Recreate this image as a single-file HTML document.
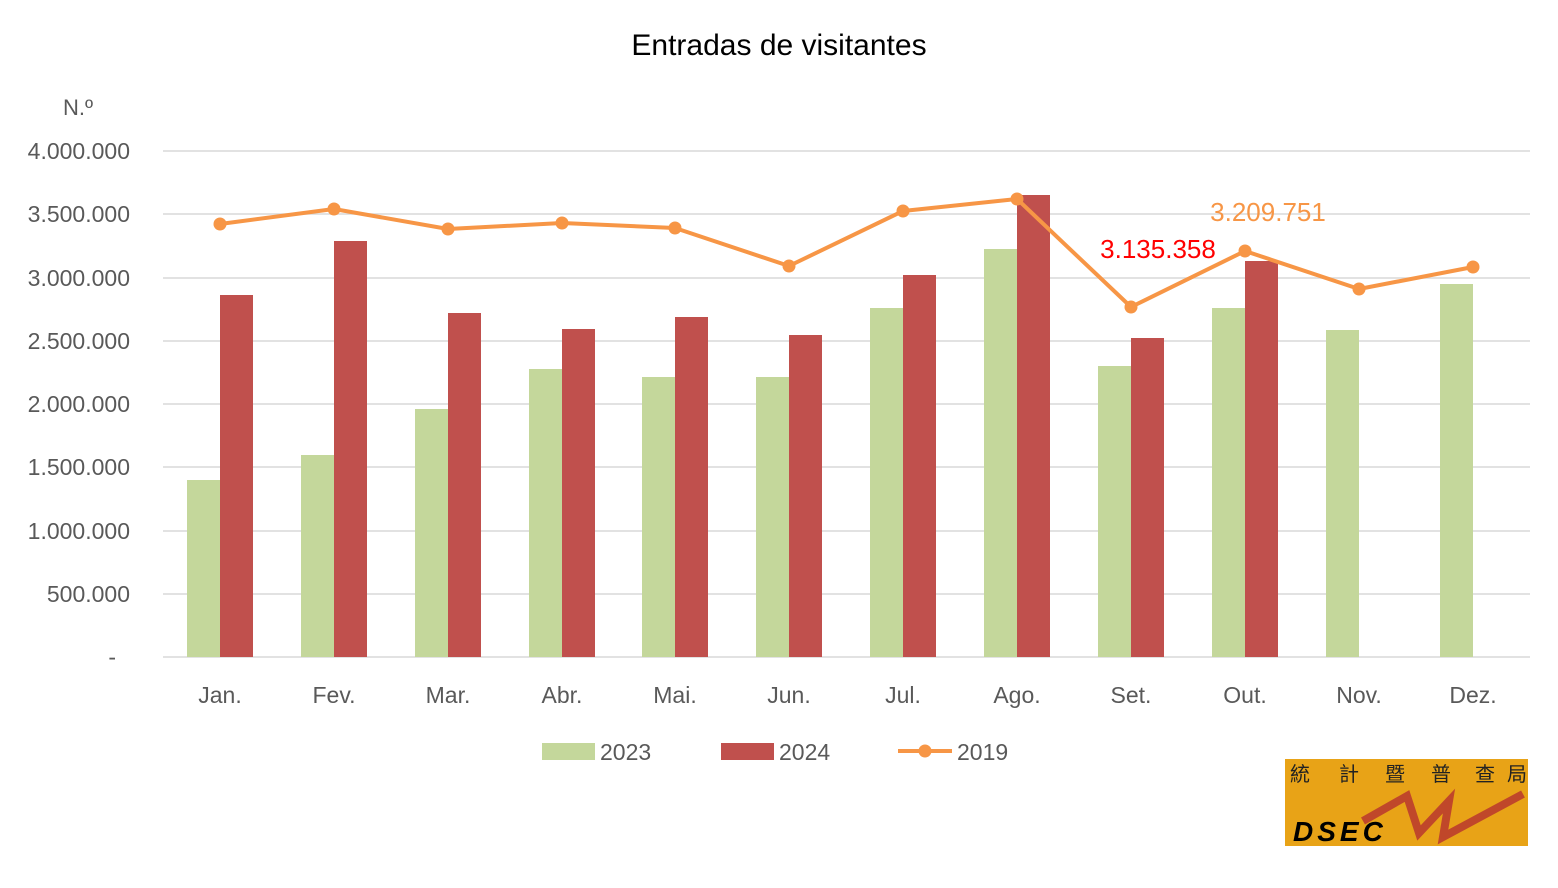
<!DOCTYPE html>
<html><head><meta charset="utf-8"><style>body{margin:0;background:#fff}svg{display:block}text{font-family:"Liberation Sans","DejaVu Sans",sans-serif}</style></head><body>
<svg width="1558" height="888" viewBox="0 0 1558 888" xmlns="http://www.w3.org/2000/svg">
<text x="779" y="55" font-size="30" text-anchor="middle" fill="#000">Entradas de visitantes</text>
<text x="78" y="115" font-size="22" text-anchor="middle" fill="#595959">N.º</text>
<g stroke="#d9d9d9" stroke-width="1.5">
<line x1="163" x2="1530" y1="151" y2="151"/><line x1="163" x2="1530" y1="214" y2="214"/><line x1="163" x2="1530" y1="278" y2="278"/><line x1="163" x2="1530" y1="341" y2="341"/><line x1="163" x2="1530" y1="404" y2="404"/><line x1="163" x2="1530" y1="467" y2="467"/><line x1="163" x2="1530" y1="531" y2="531"/><line x1="163" x2="1530" y1="594" y2="594"/><line x1="163" x2="1530" y1="657" y2="657"/>
</g>
<g font-size="23" fill="#595959" text-anchor="end">
<text x="130" y="159">4.000.000</text><text x="130" y="222">3.500.000</text><text x="130" y="286">3.000.000</text><text x="130" y="349">2.500.000</text><text x="130" y="412">2.000.000</text><text x="130" y="475">1.500.000</text><text x="130" y="539">1.000.000</text><text x="130" y="602">500.000</text><text x="116" y="665">-</text>
</g>
<g fill="#c4d79b">
<rect x="187" y="480" width="33" height="177"/><rect x="301" y="455" width="33" height="202"/><rect x="415" y="409" width="33" height="248"/><rect x="529" y="369" width="33" height="288"/><rect x="642" y="377" width="33" height="280"/><rect x="756" y="377" width="33" height="280"/><rect x="870" y="308" width="33" height="349"/><rect x="984" y="249" width="33" height="408"/><rect x="1098" y="366" width="33" height="291"/><rect x="1212" y="308" width="33" height="349"/><rect x="1326" y="330" width="33" height="327"/><rect x="1440" y="284" width="33" height="373"/>
</g>
<g fill="#c0504d">
<rect x="220" y="295" width="33" height="362"/><rect x="334" y="241" width="33" height="416"/><rect x="448" y="313" width="33" height="344"/><rect x="562" y="329" width="33" height="328"/><rect x="675" y="317" width="33" height="340"/><rect x="789" y="335" width="33" height="322"/><rect x="903" y="275" width="33" height="382"/><rect x="1017" y="195" width="33" height="462"/><rect x="1131" y="338" width="33" height="319"/><rect x="1245" y="261" width="33" height="396"/>
</g>
<polyline fill="none" stroke="#f79646" stroke-width="4" stroke-linejoin="round" points="220,224 334,209 448,229 562,223 675,228 789,266 903,211 1017,199 1131,307 1245,251 1359,289 1473,267"/>
<g fill="#f79646">
<circle cx="220" cy="224" r="6.5"/><circle cx="334" cy="209" r="6.5"/><circle cx="448" cy="229" r="6.5"/><circle cx="562" cy="223" r="6.5"/><circle cx="675" cy="228" r="6.5"/><circle cx="789" cy="266" r="6.5"/><circle cx="903" cy="211" r="6.5"/><circle cx="1017" cy="199" r="6.5"/><circle cx="1131" cy="307" r="6.5"/><circle cx="1245" cy="251" r="6.5"/><circle cx="1359" cy="289" r="6.5"/><circle cx="1473" cy="267" r="6.5"/>
</g>
<text x="1158" y="258" font-size="26" fill="#ff0000" text-anchor="middle">3.135.358</text>
<text x="1268" y="221" font-size="26" fill="#f79646" text-anchor="middle">3.209.751</text>
<g font-size="23" fill="#595959" text-anchor="middle">
<text x="220" y="703">Jan.</text><text x="334" y="703">Fev.</text><text x="448" y="703">Mar.</text><text x="562" y="703">Abr.</text><text x="675" y="703">Mai.</text><text x="789" y="703">Jun.</text><text x="903" y="703">Jul.</text><text x="1017" y="703">Ago.</text><text x="1131" y="703">Set.</text><text x="1245" y="703">Out.</text><text x="1359" y="703">Nov.</text><text x="1473" y="703">Dez.</text>
</g>
<rect x="542" y="743" width="53" height="17" fill="#c4d79b"/>
<text x="600" y="760" font-size="23" fill="#595959">2023</text>
<rect x="721" y="743" width="53" height="17" fill="#c0504d"/>
<text x="779" y="760" font-size="23" fill="#595959">2024</text>
<line x1="898" x2="952" y1="751" y2="751" stroke="#f79646" stroke-width="4"/>
<circle cx="925" cy="751" r="6.5" fill="#f79646"/>
<text x="957" y="760" font-size="23" fill="#595959">2019</text>
<g transform="translate(1285,759)">
<svg width="243" height="87" overflow="hidden">
<rect width="243" height="87" fill="#e8a317"/>
<g font-size="20" fill="#222" font-family="'Noto Sans CJK TC',sans-serif">
<text x="5" y="22">統</text><text x="54" y="22">計</text><text x="100" y="22">暨</text><text x="146" y="22">普</text><text x="190" y="22">查</text><text x="222" y="22">局</text>
</g>
<polyline points="78,62 122,37 134,74 164,42 158,78 238,35" fill="none" stroke="#c0472a" stroke-width="8" stroke-linejoin="miter"/>
<text x="8" y="82" font-size="28" font-weight="bold" font-style="italic" fill="#000" letter-spacing="4">DSEC</text>
</svg>
</g>
</svg>
</body></html>
